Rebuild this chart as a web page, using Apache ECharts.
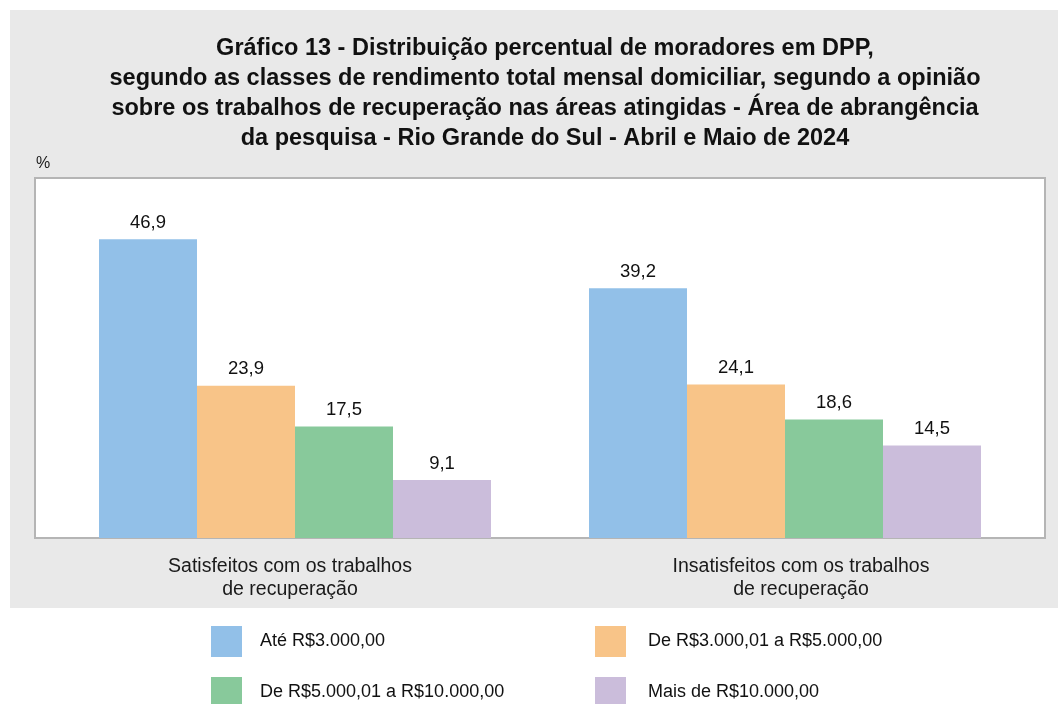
<!DOCTYPE html>
<html><head><meta charset="utf-8">
<script src="https://cdn.jsdelivr.net/npm/echarts@6/dist/echarts.min.js"></script>
<style>html,body{margin:0;padding:0;background:#fff}#c{width:1058px;height:704px}</style>
</head><body><div id="c"></div>
<script>
const categories = ['Satisfeitos com os trabalhos\nde recuperação', 'Insatisfeitos com os trabalhos\nde recuperação'];
const seriesNames = ['Até R$3.000,00', 'De R$3.000,01 a R$5.000,00', 'De R$5.000,01 a R$10.000,00', 'Mais de R$10.000,00'];
const ate3000 = [46.9, 39.2];
const de3000a5000 = [23.9, 24.1];
const de5000a10000 = [17.5, 18.6];
const mais10000 = [9.1, 14.5];
const colors = ['#92c0e8', '#f8c488', '#88c99b', '#cbbddb'];
const titleText = 'Gráfico 13 - Distribuição percentual de moradores em DPP,\nsegundo as classes de rendimento total mensal domiciliar, segundo a opinião\nsobre os trabalhos de recuperação nas áreas atingidas - Área de abrangência\nda pesquisa - Rio Grande do Sul - Abril e Maio de 2024';

const font = '"Liberation Sans", Arial, sans-serif';
const values = [ate3000, de3000a5000, de5000a10000, mais10000];
const legendPos = [[206, 621], [590, 621], [206, 672], [590, 672]];
const legendTextPad = [18, 22, 18, 22];
const chart = echarts.init(document.getElementById('c'), null, {renderer: 'canvas'});
chart.setOption({
  animation: false,
  textStyle: {fontFamily: font},
  graphic: [
    {type: 'rect', z: -10, shape: {x: 10, y: 10, width: 1048, height: 598}, style: {fill: '#e9e9e9'}},
    {type: 'rect', z: -9, shape: {x: 35, y: 178, width: 1010, height: 360}, style: {fill: '#ffffff', stroke: '#b5b5b5', lineWidth: 2}},
    {type: 'text', left: 36, top: 156, style: {text: '%', fontSize: 16, fill: '#1a1a1a', fontFamily: font}}
  ],
  title: {
    text: titleText,
    left: 540, top: 29, textAlign: 'center',
    textStyle: {fontSize: 23.5, fontWeight: 'bold', color: '#111', lineHeight: 30, fontFamily: font}
  },
  legend: seriesNames.map((n, i) => ({
    data: [n], left: legendPos[i][0], top: legendPos[i][1], itemWidth: 31, itemHeight: 31,
    icon: 'rect', textStyle: {fontSize: 18, color: '#111', padding: [0, 0, 0, legendTextPad[i] - 5]}
  })),
  grid: {left: 50, right: 28, top: 178, bottom: 166},
  xAxis: {
    type: 'category', data: categories,
    axisLine: {show: false}, axisTick: {show: false},
    axisLabel: {
      interval: 0, margin: 17,
      formatter: (v, idx) => v.split('\n').map(s => (idx === 0 ? '{a|' : '{b|') + s + '}').join('\n'),
      rich: {
        a: {fontSize: 19.5, color: '#1a1a1a', lineHeight: 23, padding: [0, 10, 0, 0], fontFamily: font},
        b: {fontSize: 19.5, color: '#1a1a1a', lineHeight: 23, padding: [0, 0, 0, 32], fontFamily: font}
      }
    }
  },
  yAxis: {type: 'value', min: 0, max: 56.5, show: false, splitLine: {show: false}},
  series: seriesNames.map((n, i) => ({
    name: n, type: 'bar', data: values[i], barGap: '0%', barCategoryGap: '20%',
    itemStyle: {color: colors[i]},
    label: {show: true, position: 'top', distance: 7, fontSize: 18.5, color: '#111',
      formatter: p => String(p.value).replace('.', ',')}
  }))
});
</script></body></html>
